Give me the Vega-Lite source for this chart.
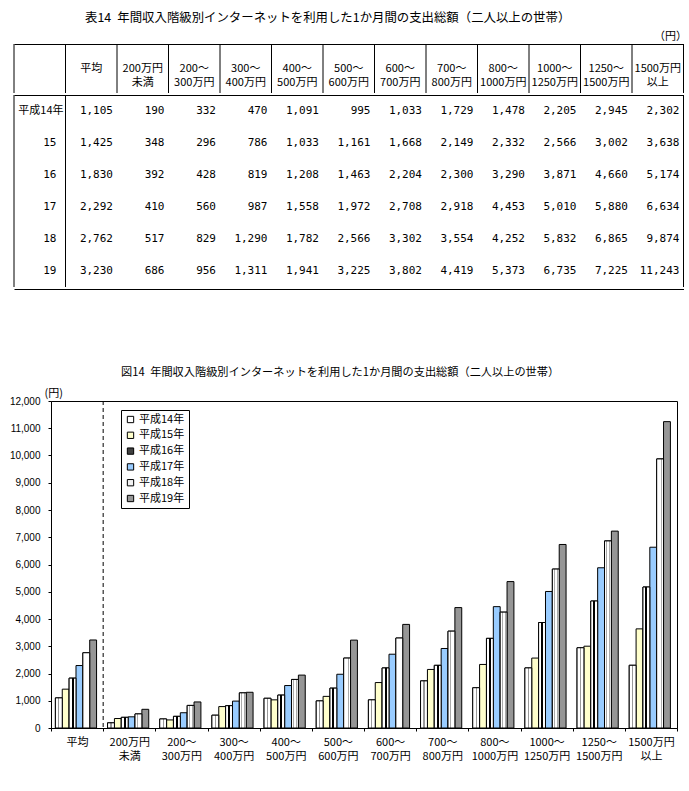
{
  "$schema": "https://vega.github.io/schema/vega-lite/v6.json",
  "background": "white",
  "padding": {"left": 8, "top": 12, "right": 2, "bottom": 4},
  "config": {
    "view": {"stroke": "black", "strokeWidth": 1},
    "font": "Noto Sans CJK JP",
    "title": {"font": "Noto Sans CJK JP", "fontSize": 12, "fontWeight": "normal", "color": "black"},
    "text": {"color": "black"}
  },
  "datasets": {
    "d": [
      {"year": "平成14年", "row": "平成14年", "cat": "平均", "value": 1105},
      {"year": "平成14年", "row": "平成14年", "cat": "200万円|未満", "value": 190},
      {"year": "平成14年", "row": "平成14年", "cat": "200～|300万円", "value": 332},
      {"year": "平成14年", "row": "平成14年", "cat": "300～|400万円", "value": 470},
      {"year": "平成14年", "row": "平成14年", "cat": "400～|500万円", "value": 1091},
      {"year": "平成14年", "row": "平成14年", "cat": "500～|600万円", "value": 995},
      {"year": "平成14年", "row": "平成14年", "cat": "600～|700万円", "value": 1033},
      {"year": "平成14年", "row": "平成14年", "cat": "700～|800万円", "value": 1729},
      {"year": "平成14年", "row": "平成14年", "cat": "800～|1000万円", "value": 1478},
      {"year": "平成14年", "row": "平成14年", "cat": "1000～|1250万円", "value": 2205},
      {"year": "平成14年", "row": "平成14年", "cat": "1250～|1500万円", "value": 2945},
      {"year": "平成14年", "row": "平成14年", "cat": "1500万円|以上", "value": 2302},
      {"year": "平成15年", "row": "15", "cat": "平均", "value": 1425},
      {"year": "平成15年", "row": "15", "cat": "200万円|未満", "value": 348},
      {"year": "平成15年", "row": "15", "cat": "200～|300万円", "value": 296},
      {"year": "平成15年", "row": "15", "cat": "300～|400万円", "value": 786},
      {"year": "平成15年", "row": "15", "cat": "400～|500万円", "value": 1033},
      {"year": "平成15年", "row": "15", "cat": "500～|600万円", "value": 1161},
      {"year": "平成15年", "row": "15", "cat": "600～|700万円", "value": 1668},
      {"year": "平成15年", "row": "15", "cat": "700～|800万円", "value": 2149},
      {"year": "平成15年", "row": "15", "cat": "800～|1000万円", "value": 2332},
      {"year": "平成15年", "row": "15", "cat": "1000～|1250万円", "value": 2566},
      {"year": "平成15年", "row": "15", "cat": "1250～|1500万円", "value": 3002},
      {"year": "平成15年", "row": "15", "cat": "1500万円|以上", "value": 3638},
      {"year": "平成16年", "row": "16", "cat": "平均", "value": 1830},
      {"year": "平成16年", "row": "16", "cat": "200万円|未満", "value": 392},
      {"year": "平成16年", "row": "16", "cat": "200～|300万円", "value": 428},
      {"year": "平成16年", "row": "16", "cat": "300～|400万円", "value": 819},
      {"year": "平成16年", "row": "16", "cat": "400～|500万円", "value": 1208},
      {"year": "平成16年", "row": "16", "cat": "500～|600万円", "value": 1463},
      {"year": "平成16年", "row": "16", "cat": "600～|700万円", "value": 2204},
      {"year": "平成16年", "row": "16", "cat": "700～|800万円", "value": 2300},
      {"year": "平成16年", "row": "16", "cat": "800～|1000万円", "value": 3290},
      {"year": "平成16年", "row": "16", "cat": "1000～|1250万円", "value": 3871},
      {"year": "平成16年", "row": "16", "cat": "1250～|1500万円", "value": 4660},
      {"year": "平成16年", "row": "16", "cat": "1500万円|以上", "value": 5174},
      {"year": "平成17年", "row": "17", "cat": "平均", "value": 2292},
      {"year": "平成17年", "row": "17", "cat": "200万円|未満", "value": 410},
      {"year": "平成17年", "row": "17", "cat": "200～|300万円", "value": 560},
      {"year": "平成17年", "row": "17", "cat": "300～|400万円", "value": 987},
      {"year": "平成17年", "row": "17", "cat": "400～|500万円", "value": 1558},
      {"year": "平成17年", "row": "17", "cat": "500～|600万円", "value": 1972},
      {"year": "平成17年", "row": "17", "cat": "600～|700万円", "value": 2708},
      {"year": "平成17年", "row": "17", "cat": "700～|800万円", "value": 2918},
      {"year": "平成17年", "row": "17", "cat": "800～|1000万円", "value": 4453},
      {"year": "平成17年", "row": "17", "cat": "1000～|1250万円", "value": 5010},
      {"year": "平成17年", "row": "17", "cat": "1250～|1500万円", "value": 5880},
      {"year": "平成17年", "row": "17", "cat": "1500万円|以上", "value": 6634},
      {"year": "平成18年", "row": "18", "cat": "平均", "value": 2762},
      {"year": "平成18年", "row": "18", "cat": "200万円|未満", "value": 517},
      {"year": "平成18年", "row": "18", "cat": "200～|300万円", "value": 829},
      {"year": "平成18年", "row": "18", "cat": "300～|400万円", "value": 1290},
      {"year": "平成18年", "row": "18", "cat": "400～|500万円", "value": 1782},
      {"year": "平成18年", "row": "18", "cat": "500～|600万円", "value": 2566},
      {"year": "平成18年", "row": "18", "cat": "600～|700万円", "value": 3302},
      {"year": "平成18年", "row": "18", "cat": "700～|800万円", "value": 3554},
      {"year": "平成18年", "row": "18", "cat": "800～|1000万円", "value": 4252},
      {"year": "平成18年", "row": "18", "cat": "1000～|1250万円", "value": 5832},
      {"year": "平成18年", "row": "18", "cat": "1250～|1500万円", "value": 6865},
      {"year": "平成18年", "row": "18", "cat": "1500万円|以上", "value": 9874},
      {"year": "平成19年", "row": "19", "cat": "平均", "value": 3230},
      {"year": "平成19年", "row": "19", "cat": "200万円|未満", "value": 686},
      {"year": "平成19年", "row": "19", "cat": "200～|300万円", "value": 956},
      {"year": "平成19年", "row": "19", "cat": "300～|400万円", "value": 1311},
      {"year": "平成19年", "row": "19", "cat": "400～|500万円", "value": 1941},
      {"year": "平成19年", "row": "19", "cat": "500～|600万円", "value": 3225},
      {"year": "平成19年", "row": "19", "cat": "600～|700万円", "value": 3802},
      {"year": "平成19年", "row": "19", "cat": "700～|800万円", "value": 4419},
      {"year": "平成19年", "row": "19", "cat": "800～|1000万円", "value": 5373},
      {"year": "平成19年", "row": "19", "cat": "1000～|1250万円", "value": 6735},
      {"year": "平成19年", "row": "19", "cat": "1250～|1500万円", "value": 7225},
      {"year": "平成19年", "row": "19", "cat": "1500万円|以上", "value": 11243}
    ]
  },
  "spacing": 75,
  "resolve": {"scale": {"x": "independent", "y": "independent", "color": "independent"}},
  "vconcat": [
    {
      "title": {"text": "表14\u2002年間収入階級別インターネットを利用した1か月間の支出総額（二人以上の世帯）", "offset": 6, "anchor": "start", "frame": "group", "dx": 34, "fontSize": 12.4},
      "spacing": 0,
      "resolve": {"scale": {"x": "independent", "y": "independent"}},
      "vconcat": [
        {
          "width": 633,
          "height": 49,
          "view": {"stroke": null},
          "title": {"text": "（円）", "anchor": "start", "frame": "group", "fontSize": 11, "offset": 2, "dx": 603},
          "data": {"name": "d"},
          "transform": [{"filter": "datum.year == '平成14年'"}],
          "layer": [
            {
              "mark": {"type": "text", "lineBreak": "|", "fontSize": 11, "lineHeight": 14, "font": "Noto Sans CJK JP"},
              "encoding": {
                "x": {"field": "cat", "type": "nominal",
                  "axis": {"orient": "top", "labels": false, "ticks": false, "grid": false, "title": null, "domainColor": "black", "domainWidth": 1},
                  "scale": {"domain": ["行", "平均", "200万円|未満", "200～|300万円", "300～|400万円", "400～|500万円", "500～|600万円", "600～|700万円", "700～|800万円", "800～|1000万円", "1000～|1250万円", "1250～|1500万円", "1500万円|以上"], "range": [-37, 632.5], "paddingInner": 0, "paddingOuter": 0}},
                "text": {"field": "cat", "type": "nominal"}
              }
            },
            {
              "mark": {"type": "rule", "color": "black", "strokeWidth": 1},
              "encoding": {
                "x": {"field": "cat", "type": "nominal", "bandPosition": 0}
              }
            },
            {
              "transform": [{"filter": "datum.cat == '平均'"}],
              "mark": {"type": "rule", "color": "black", "strokeWidth": 1},
              "encoding": {"x": {"datum": "行", "type": "nominal", "bandPosition": 0}}
            },
            {
              "transform": [{"filter": "datum.cat == '1500万円|以上'"}],
              "mark": {"type": "rule", "color": "black", "strokeWidth": 1},
              "encoding": {"x": {"field": "cat", "type": "nominal", "bandPosition": 1}}
            }
          ]
        },
        {
          "width": 633,
          "height": 192,
          "view": {"stroke": null},
          "data": {"name": "d"},
          "layer": [
            {
              "mark": {"type": "text", "align": "right", "dx": -4, "font": "DejaVu Sans Mono", "fontSize": 11},
              "encoding": {
                "x": {"field": "cat", "type": "nominal", "bandPosition": 1,
                  "axis": {"orient": "top", "labels": false, "ticks": false, "grid": false, "title": null, "domainColor": "black", "domainWidth": 1},
                  "scale": {"domain": ["行", "平均", "200万円|未満", "200～|300万円", "300～|400万円", "400～|500万円", "500～|600万円", "600～|700万円", "700～|800万円", "800～|1000万円", "1000～|1250万円", "1250～|1500万円", "1500万円|以上"], "range": [-37, 632.5], "paddingInner": 0, "paddingOuter": 0}},
                "y": {"field": "row", "type": "nominal", "axis": null,
                  "scale": {"domain": ["平成14年", "15", "16", "17", "18", "19"], "paddingInner": 0, "paddingOuter": 0}},
                "text": {"field": "value", "type": "quantitative", "format": ","}
              }
            },
            {
              "transform": [{"filter": "datum.cat == '平均' && datum.year != '平成14年'"}],
              "mark": {"type": "text", "align": "right", "dx": -9, "font": "DejaVu Sans Mono", "fontSize": 11},
              "encoding": {
                "x": {"datum": "行", "type": "nominal", "bandPosition": 1},
                "y": {"field": "row", "type": "nominal"},
                "text": {"field": "row", "type": "nominal"}
              }
            },
            {
              "transform": [{"filter": "datum.cat == '平均' && datum.year == '平成14年'"}],
              "mark": {"type": "text", "align": "right", "dx": -2, "font": "Noto Sans CJK JP", "fontSize": 11},
              "encoding": {
                "x": {"datum": "行", "type": "nominal", "bandPosition": 1},
                "y": {"field": "row", "type": "nominal"},
                "text": {"field": "row", "type": "nominal"}
              }
            },
            {
              "transform": [{"filter": "datum.cat == '平均' && datum.year == '平成14年'"}],
              "mark": {"type": "rule", "color": "black", "strokeWidth": 1},
              "encoding": {"x": {"field": "cat", "type": "nominal", "bandPosition": 0}}
            },
            {
              "transform": [{"filter": "datum.cat == '平均' && datum.year == '平成14年'"}],
              "mark": {"type": "rule", "color": "black", "strokeWidth": 1},
              "encoding": {"x": {"datum": "行", "type": "nominal", "bandPosition": 0}}
            },
            {
              "transform": [{"filter": "datum.cat == '1500万円|以上' && datum.year == '平成14年'"}],
              "mark": {"type": "rule", "color": "black", "strokeWidth": 1},
              "encoding": {"x": {"field": "cat", "type": "nominal", "bandPosition": 1}}
            }
          ]
        },
        {
          "width": 633,
          "height": 1,
          "view": {"stroke": null},
          "data": {"name": "d"},
          "transform": [{"filter": "datum.cat == '平均' && datum.year == '平成14年'"}],
          "mark": {"type": "rule", "color": "black", "strokeWidth": 1},
          "encoding": {
            "x": {"field": "cat", "type": "nominal", "bandPosition": 0,
              "axis": {"orient": "top", "labels": false, "ticks": false, "grid": false, "title": null, "domainColor": "black", "domainWidth": 1},
              "scale": {"domain": ["行", "平均", "200万円|未満", "200～|300万円", "300～|400万円", "400～|500万円", "500～|600万円", "600～|700万円", "700～|800万円", "800～|1000万円", "1000～|1250万円", "1250～|1500万円", "1500万円|以上"], "range": [-37, 632.5], "paddingInner": 0, "paddingOuter": 0}}
          }
        }
      ]
    },
    {
      "width": 626,
      "height": 327,
      "title": {"text": "図14\u2002年間収入階級別インターネットを利用した1か月間の支出総額（二人以上の世帯）", "offset": 9, "anchor": "start", "frame": "group", "dx": 70, "fontSize": 11.2},
      "data": {"name": "d"},
      "layer": [
        {
          "mark": {"type": "bar", "stroke": "black", "strokeWidth": 1},
          "encoding": {
            "x": {"field": "cat", "type": "nominal",
              "scale": {"domain": ["平均", "200万円|未満", "200～|300万円", "300～|400万円", "400～|500万円", "500～|600万円", "600～|700万円", "700～|800万円", "800～|1000万円", "1000～|1250万円", "1250～|1500万円", "1500万円|以上"], "paddingInner": 0, "paddingOuter": 0},
              "axis": {"title": null, "labelAngle": 0, "labelExpr": "datum.value ? split(datum.value, '|') : ''", "labelFontSize": 11, "labelLineHeight": 14, "labelPadding": 5, "labelColor": "black", "tickBand": "extent", "tickSize": 3, "tickColor": "black", "domainColor": "black", "labelFont": "Noto Sans CJK JP"}},
            "xOffset": {"field": "year", "type": "nominal",
              "scale": {"domain": ["平成14年", "平成15年", "平成16年", "平成17年", "平成18年", "平成19年"], "paddingInner": 0, "paddingOuter": 0.8, "align": 0.4}},
            "y": {"field": "value", "type": "quantitative",
              "scale": {"domain": [0, 12000], "nice": false},
              "axis": {"values": [0, 1000, 2000, 3000, 4000, 5000, 6000, 7000, 8000, 9000, 10000, 11000, 12000], "format": ",d", "grid": false, "labelOverlap": false, "labelFontSize": 10, "labelColor": "black", "labelFont": "Liberation Sans", "tickSize": 3, "tickColor": "black", "domainColor": "black", "labelPadding": 8,
                "title": "(円)", "titleAngle": 0, "titleAlign": "left", "titleBaseline": "middle", "titleX": -7, "titleY": -8, "titleFontSize": 11, "titleFontWeight": "normal", "titleColor": "black", "titleFont": "Noto Sans CJK JP"}},
            "color": {"field": "year", "type": "nominal",
              "scale": {"domain": ["平成14年", "平成15年", "平成16年", "平成17年", "平成18年", "平成19年"],
                "range": ["#ffffff", "#FFFFCC", "#404040", "#99CCFF", "#f2f2f2", "#969696"]},
              "legend": {"title": null, "orient": "none", "legendX": 70, "legendY": 9, "padding": 4, "strokeColor": "black", "fillColor": "white", "symbolType": "square", "symbolSize": 40, "symbolStrokeColor": "black", "symbolStrokeWidth": 1, "symbolOpacity": 1, "labelFontSize": 11, "labelFont": "Noto Sans CJK JP", "labelColor": "black", "labelOffset": 3, "rowPadding": 3.8}}
          }
        },
        {
          "transform": [{"filter": "datum.year == '平成14年'"}],
          "mark": {"type": "bar", "stroke": "black", "strokeWidth": 1,
            "fill": {"gradient": "linear", "x1": 0, "y1": 0, "x2": 1, "y2": 0, "stops": [{"offset": 0, "color": "#ffffff"}, {"offset": 0.42, "color": "#ffffff"}, {"offset": 0.42, "color": "#999999"}, {"offset": 0.58, "color": "#999999"}, {"offset": 0.58, "color": "#ffffff"}, {"offset": 1, "color": "#ffffff"}]}},
          "encoding": {
            "x": {"field": "cat", "type": "nominal",
              "axis": {"title": null, "labelAngle": 0, "labelExpr": "datum.value ? split(datum.value, '|') : ''", "labelFontSize": 11, "labelLineHeight": 14, "labelPadding": 5, "labelColor": "black", "tickBand": "extent", "tickSize": 3, "tickColor": "black", "domainColor": "black", "labelFont": "Noto Sans CJK JP"}},
            "xOffset": {"field": "year", "type": "nominal"},
            "y": {"field": "value", "type": "quantitative",
              "axis": {"values": [0, 1000, 2000, 3000, 4000, 5000, 6000, 7000, 8000, 9000, 10000, 11000, 12000], "format": ",d", "grid": false, "labelOverlap": false, "labelFontSize": 10, "labelColor": "black", "labelFont": "Liberation Sans", "tickSize": 3, "tickColor": "black", "domainColor": "black", "labelPadding": 8,
                "title": "(円)", "titleAngle": 0, "titleAlign": "left", "titleBaseline": "middle", "titleX": -7, "titleY": -8, "titleFontSize": 11, "titleFontWeight": "normal", "titleColor": "black", "titleFont": "Noto Sans CJK JP"}}
          }
        },
        {
          "transform": [{"filter": "datum.year == '平成16年'"}],
          "mark": {"type": "bar", "stroke": "black", "strokeWidth": 1,
            "fill": {"gradient": "linear", "x1": 0, "y1": 0, "x2": 1, "y2": 0, "stops": [{"offset": 0, "color": "#ffffff"}, {"offset": 0.36, "color": "#ffffff"}, {"offset": 0.36, "color": "#000000"}, {"offset": 0.64, "color": "#000000"}, {"offset": 0.64, "color": "#ffffff"}, {"offset": 1, "color": "#ffffff"}]}},
          "encoding": {
            "x": {"field": "cat", "type": "nominal",
              "axis": {"title": null, "labelAngle": 0, "labelExpr": "datum.value ? split(datum.value, '|') : ''", "labelFontSize": 11, "labelLineHeight": 14, "labelPadding": 5, "labelColor": "black", "tickBand": "extent", "tickSize": 3, "tickColor": "black", "domainColor": "black", "labelFont": "Noto Sans CJK JP"}},
            "xOffset": {"field": "year", "type": "nominal"},
            "y": {"field": "value", "type": "quantitative",
              "axis": {"values": [0, 1000, 2000, 3000, 4000, 5000, 6000, 7000, 8000, 9000, 10000, 11000, 12000], "format": ",d", "grid": false, "labelOverlap": false, "labelFontSize": 10, "labelColor": "black", "labelFont": "Liberation Sans", "tickSize": 3, "tickColor": "black", "domainColor": "black", "labelPadding": 8,
                "title": "(円)", "titleAngle": 0, "titleAlign": "left", "titleBaseline": "middle", "titleX": -7, "titleY": -8, "titleFontSize": 11, "titleFontWeight": "normal", "titleColor": "black", "titleFont": "Noto Sans CJK JP"}}
          }
        },
        {
          "transform": [{"filter": "datum.year == '平成18年'"}],
          "mark": {"type": "bar", "stroke": "black", "strokeWidth": 1,
            "fill": {"gradient": "linear", "x1": 0, "y1": 0, "x2": 1, "y2": 0, "stops": [{"offset": 0, "color": "#ffffff"}, {"offset": 0.28, "color": "#ffffff"}, {"offset": 0.28, "color": "#aaaaaa"}, {"offset": 0.38, "color": "#aaaaaa"}, {"offset": 0.38, "color": "#ffffff"}, {"offset": 0.68, "color": "#ffffff"}, {"offset": 0.68, "color": "#aaaaaa"}, {"offset": 0.78, "color": "#aaaaaa"}, {"offset": 0.78, "color": "#ffffff"}, {"offset": 1, "color": "#ffffff"}]}},
          "encoding": {
            "x": {"field": "cat", "type": "nominal",
              "axis": {"title": null, "labelAngle": 0, "labelExpr": "datum.value ? split(datum.value, '|') : ''", "labelFontSize": 11, "labelLineHeight": 14, "labelPadding": 5, "labelColor": "black", "tickBand": "extent", "tickSize": 3, "tickColor": "black", "domainColor": "black", "labelFont": "Noto Sans CJK JP"}},
            "xOffset": {"field": "year", "type": "nominal"},
            "y": {"field": "value", "type": "quantitative",
              "axis": {"values": [0, 1000, 2000, 3000, 4000, 5000, 6000, 7000, 8000, 9000, 10000, 11000, 12000], "format": ",d", "grid": false, "labelOverlap": false, "labelFontSize": 10, "labelColor": "black", "labelFont": "Liberation Sans", "tickSize": 3, "tickColor": "black", "domainColor": "black", "labelPadding": 8,
                "title": "(円)", "titleAngle": 0, "titleAlign": "left", "titleBaseline": "middle", "titleX": -7, "titleY": -8, "titleFontSize": 11, "titleFontWeight": "normal", "titleColor": "black", "titleFont": "Noto Sans CJK JP"}}
          }
        },
        {
          "data": {"values": [{"cat": "200万円|未満"}]},
          "mark": {"type": "rule", "strokeDash": [4, 3], "color": "black", "strokeWidth": 1},
          "encoding": {
            "x": {"field": "cat", "type": "nominal", "bandPosition": 0,
              "axis": {"title": null, "labelAngle": 0, "labelExpr": "datum.value ? split(datum.value, '|') : ''", "labelFontSize": 11, "labelLineHeight": 14, "labelPadding": 5, "labelColor": "black", "tickBand": "extent", "tickSize": 3, "tickColor": "black", "domainColor": "black", "labelFont": "Noto Sans CJK JP"}}
          }
        }
      ]
    }
  ]
}
